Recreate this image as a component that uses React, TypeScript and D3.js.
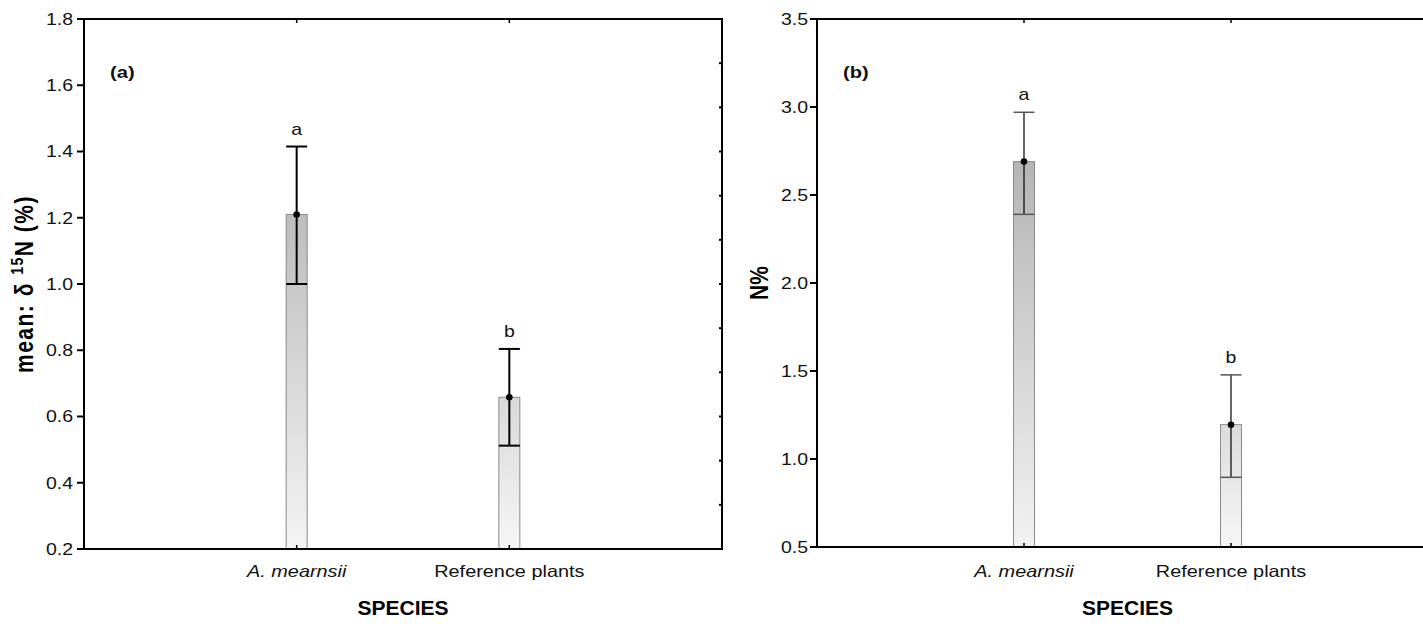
import React from "react";
import * as d3 from "d3";

// Species compared in both panels
const categories = ["A. mearnsii", "Reference plants"];
const italicCategory = [true, false];
const groupLetters = ["a", "b"];

// Panel (a): mean δ15N with lower / upper error limits
const deltaMean = [1.21, 0.658];
const deltaLow = [1.0, 0.512];
const deltaHigh = [1.415, 0.804];
const deltaTicks = [0.2, 0.4, 0.6, 0.8, 1.0, 1.2, 1.4, 1.6, 1.8];

// Panel (b): N% with lower / upper error limits
const nMean = [2.69, 1.195];
const nLow = [2.39, 0.896];
const nHigh = [2.97, 1.478];
const nTicks = [0.5, 1.0, 1.5, 2.0, 2.5, 3.0, 3.5];

const FONT = "'Liberation Sans', Arial, Helvetica, sans-serif";
const SX = 1.22; // horizontal stretch of the figure's lettering

type PanelProps = {
  id: string;
  left: number;
  right: number;
  top: number;
  bottom: number;
  domain: [number, number];
  ticks: number[];
  tickFmt: (v: number) => string;
  mean: number[];
  low: number[];
  high: number[];
  tag: string;
  heavy: boolean;
  rightTickCount: number;
  gradients: [string, string][];
  yLabel: React.ReactNode;
  yLabelX: number;
  yLabelSpacing: number;
  labelGap: number;
};

function SText(props: {
  x: number;
  y: number;
  anchor?: "start" | "middle" | "end";
  size: number;
  weight?: string;
  italic?: boolean;
  children: React.ReactNode;
}) {
  const { x, y, anchor = "start", size, weight = "normal", italic, children } = props;
  return (
    <text
      transform={`translate(${x},${y}) scale(${SX},1)`}
      textAnchor={anchor}
      fontSize={size}
      fontWeight={weight}
      fontStyle={italic ? "italic" : "normal"}
      fontFamily={FONT}
      fill="#111"
    >
      {children}
    </text>
  );
}

function Panel(p: PanelProps) {
  const y = d3.scaleLinear().domain(p.domain).range([p.bottom, p.top]);
  const x = d3
    .scalePoint<string>()
    .domain(categories)
    .range([p.left, p.right])
    .padding(1);
  const barW = 21;
  const capW = 21;
  const errStroke = p.heavy ? 2 : 1.2;
  const capColor = p.heavy ? "#000" : "#555";
  const capStroke = p.heavy ? 2 : 1.5;
  const [d0, d1] = p.domain;
  const rightTicks = p.rightTickCount
    ? d3.range(1, p.rightTickCount).map((i) => d0 + (i * (d1 - d0)) / p.rightTickCount)
    : [];

  return (
    <g>
      <defs>
        {p.gradients.map((g, i) => (
          <linearGradient key={i} id={`${p.id}-g${i}`} x1="0" y1="0" x2="0" y2="1">
            <stop offset="0%" stopColor={g[0]} />
            <stop offset="100%" stopColor={g[1]} />
          </linearGradient>
        ))}
      </defs>

      {/* bars */}
      {categories.map((c, i) => {
        const cx = x(c)!;
        return (
          <rect
            key={c}
            x={cx - barW / 2}
            y={y(p.mean[i])}
            width={barW}
            height={y(d0) - y(p.mean[i])}
            fill={`url(#${p.id}-g${i})`}
            stroke="#8a8a8a"
            strokeWidth={1}
          />
        );
      })}

      {/* error bars, means and group letters */}
      {categories.map((c, i) => {
        const cx = x(c)!;
        return (
          <g key={c}>
            <line x1={cx} x2={cx} y1={y(p.low[i])} y2={y(p.high[i])} stroke="#000" strokeWidth={errStroke} />
            <line x1={cx - capW / 2} x2={cx + capW / 2} y1={y(p.high[i])} y2={y(p.high[i])} stroke={capColor} strokeWidth={capStroke} />
            <line x1={cx - capW / 2} x2={cx + capW / 2} y1={y(p.low[i])} y2={y(p.low[i])} stroke={capColor} strokeWidth={capStroke} />
            <circle cx={cx} cy={y(p.mean[i])} r={3.3} fill="#000" />
            <SText x={cx} y={y(p.high[i]) - 12} anchor="middle" size={16}>
              {groupLetters[i]}
            </SText>
          </g>
        );
      })}

      {/* frame */}
      <rect x={p.left} y={p.top} width={p.right - p.left} height={p.bottom - p.top} fill="none" stroke="#000" strokeWidth={2} />

      {/* left axis */}
      {p.ticks.map((t) => (
        <g key={t}>
          <line x1={p.left - 7} x2={p.left} y1={y(t)} y2={y(t)} stroke="#000" strokeWidth={2} />
          <SText x={p.left - p.labelGap} y={y(t) + 5.8} anchor="end" size={16}>
            {p.tickFmt(t)}
          </SText>
        </g>
      ))}

      {/* right axis minor ticks */}
      {rightTicks.map((t, i) => (
        <line key={i} x1={p.right - 3} x2={p.right} y1={y(t)} y2={y(t)} stroke="#000" strokeWidth={2} />
      ))}

      {/* category ticks on top and bottom */}
      {categories.map((c) => (
        <g key={c}>
          <line x1={x(c)!} x2={x(c)!} y1={p.top} y2={p.top + 4} stroke="#000" strokeWidth={1.5} />
          <line x1={x(c)!} x2={x(c)!} y1={p.bottom} y2={p.bottom - 4} stroke="#000" strokeWidth={1.5} />
        </g>
      ))}

      {/* category labels */}
      {categories.map((c, i) => (
        <SText key={c} x={x(c)!} y={577} anchor="middle" size={16.3} italic={italicCategory[i]}>
          {c}
        </SText>
      ))}

      {/* x axis title */}
      <text
        x={(p.left + p.right) / 2}
        y={615}
        textAnchor="middle"
        fontSize={21}
        fontWeight="bold"
        fontFamily={FONT}
        fill="#000"
      >
        SPECIES
      </text>

      {/* panel tag */}
      <SText x={p.left + 26} y={78} size={16.5} weight="bold">
        {p.tag}
      </SText>

      {/* y axis title */}
      <text
        transform={`translate(${p.yLabelX},${(p.top + p.bottom) / 2}) scale(1.2,1) rotate(-90)`}
        textAnchor="middle"
        fontSize={21}
        fontWeight="bold"
        fontFamily={FONT}
        letterSpacing={p.yLabelSpacing}
        fill="#000"
      >
        {p.yLabel}
      </text>
    </g>
  );
}

export default function App() {
  const fmt1 = d3.format(".1f");
  return (
    <svg
      width={1423}
      height={624}
      viewBox="0 0 1423 624"
      style={{ position: "absolute", left: 0, top: 0, background: "#fff" }}
    >
      <rect x={0} y={0} width={1423} height={624} fill="#fff" />
      <Panel
        id="pa"
        left={84}
        right={722}
        top={19}
        bottom={549}
        domain={[0.2, 1.8]}
        ticks={deltaTicks}
        tickFmt={fmt1}
        mean={deltaMean}
        low={deltaLow}
        high={deltaHigh}
        tag="(a)"
        heavy={true}
        rightTickCount={12}
        gradients={[
          ["#bdbdbd", "#f4f4f4"],
          ["#d9d9d9", "#f6f6f6"],
        ]}
        yLabelX={33}
        yLabelSpacing={1.5}
        labelGap={11}
        yLabel={
          <>
            mean: δ{" "}
            <tspan fontSize={14} dy={-8}>
              15
            </tspan>
            <tspan dy={8}>N (%)</tspan>
          </>
        }
      />
      <Panel
        id="pb"
        left={817}
        right={1438}
        top={19}
        bottom={547}
        domain={[0.5, 3.5]}
        ticks={nTicks}
        tickFmt={fmt1}
        mean={nMean}
        low={nLow}
        high={nHigh}
        tag="(b)"
        heavy={false}
        rightTickCount={0}
        gradients={[
          ["#b5b5b5", "#f2f2f2"],
          ["#dcdcdc", "#f6f6f6"],
        ]}
        yLabelX={768}
        yLabelSpacing={0}
        labelGap={9}
        yLabel={<>N%</>}
      />
    </svg>
  );
}
